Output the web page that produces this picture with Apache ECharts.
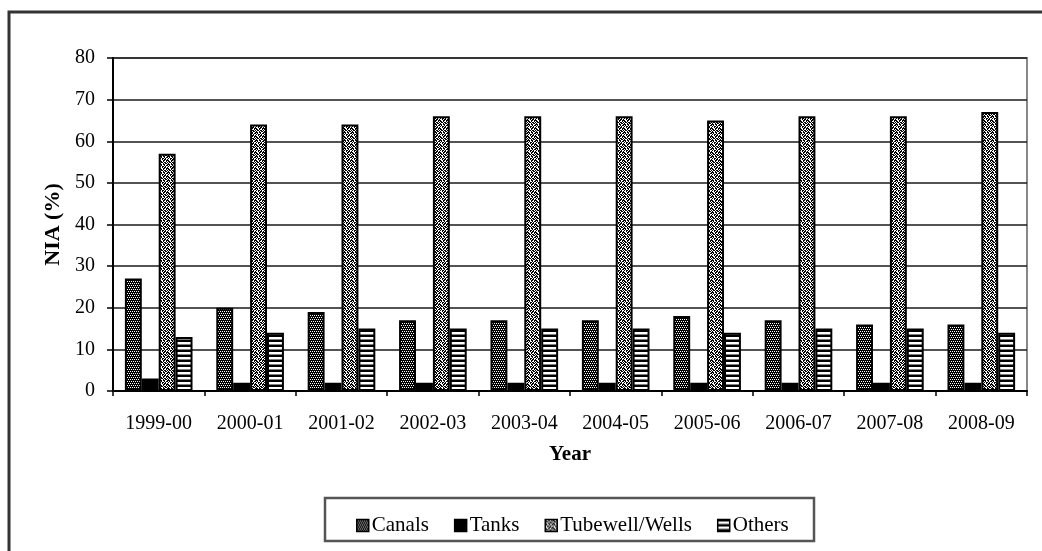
<!DOCTYPE html>
<html>
<head>
<meta charset="utf-8">
<script src="https://cdn.jsdelivr.net/npm/echarts@6/dist/echarts.min.js"></script>
<style>
  html, body { margin: 0; padding: 0; background: #fff; }
  #chart { width: 1042px; height: 551px; }
</style>
</head>
<body>
<div id="chart"></div>
<script>
// Net irrigated area share by source, per agricultural year
const years = ['1999-00', '2000-01', '2001-02', '2002-03', '2003-04', '2004-05', '2005-06', '2006-07', '2007-08', '2008-09'];
const canals = [27, 20, 19, 17, 17, 17, 18, 17, 16, 16];
const tanks = [3, 2, 2, 2, 2, 2, 2, 2, 2, 2];
const tubewells = [57, 64, 64, 66, 66, 66, 65, 66, 66, 67];
const others = [13, 14, 15, 15, 15, 15, 14, 15, 15, 14];
const yTicks = { min: 0, max: 80, step: 10 };

// Monochrome hatch fills built from tiny bitmaps ('#' = black, '.' = white, '+' = grey)
function makePattern(rows) {
  const h = rows.length, w = rows[0].length;
  const c = document.createElement('canvas');
  c.width = w; c.height = h;
  const ctx = c.getContext('2d');
  for (let y = 0; y < h; y++) {
    for (let x = 0; x < w; x++) {
      const ch = rows[y][x];
      ctx.fillStyle = ch === '#' ? '#000' : (ch === '+' ? '#808080' : '#fff');
      ctx.fillRect(x, y, 1, 1);
    }
  }
  return { image: c, repeat: 'repeat' };
}

const canalFill = makePattern([
  '####',
  '#.#.',
  '####',
  '.#.#'
]);
const tubewellFill = makePattern([
  '#..##.##',
  '##.#..#.',
  '.##.##.#',
  '#..#.##.',
  '##.##..#',
  '.#..#.##',
  '#.##.#..',
  '..#.##.#'
]);
const othersFill = makePattern([
  '####',
  '####',
  '....',
  '....',
  '++++'
]);

const serif = '"Liberation Serif", "Times New Roman", serif';
const chart = echarts.init(document.getElementById('chart'), null, { renderer: 'canvas' });

function barSeries(name, data, fill) {
  return {
    name: name,
    type: 'bar',
    data: data,
    barGap: '0%',
    barCategoryGap: '26%',
    itemStyle: { color: fill, borderColor: '#000', borderWidth: 2 },
    emphasis: { disabled: true }
  };
}

chart.setOption({
  animation: false,
  backgroundColor: '#fff',
  textStyle: { fontFamily: serif, color: '#000' },
  grid: {
    left: 113, right: 15, top: 58, bottom: 160,
    show: true, borderColor: '#888', borderWidth: 2, backgroundColor: 'transparent'
  },
  legend: {
    left: 351, top: 510,
    itemWidth: 12, itemHeight: 12, itemGap: 25,
    icon: 'rect',
    textStyle: { fontFamily: serif, fontSize: 21, color: '#000', padding: [0, 0, 0, -2] },
    itemStyle: { borderColor: '#000', borderWidth: 1.5 },
    data: ['Canals', 'Tanks', 'Tubewell/Wells', 'Others']
  },
  xAxis: {
    type: 'category',
    data: years,
    name: 'Year',
    nameLocation: 'middle',
    nameGap: 53,
    nameTextStyle: { fontFamily: serif, fontSize: 21, fontWeight: 'bold', color: '#000' },
    axisLine: { lineStyle: { color: '#000', width: 2 } },
    axisTick: { show: true, length: 5, lineStyle: { color: '#000', width: 1.5 } },
    axisLabel: { fontFamily: serif, fontSize: 20, color: '#000', margin: 23 }
  },
  yAxis: {
    type: 'value',
    min: yTicks.min, max: yTicks.max, interval: yTicks.step,
    name: 'NIA (%)',
    nameLocation: 'middle',
    nameGap: 47,
    nameTextStyle: { fontFamily: serif, fontSize: 22, fontWeight: 'bold', color: '#000' },
    axisLine: { show: true, lineStyle: { color: '#000', width: 2 } },
    axisTick: { show: true, length: 6, lineStyle: { color: '#000', width: 1.5 } },
    axisLabel: { fontFamily: serif, fontSize: 20, color: '#000', margin: 18 },
    splitLine: { lineStyle: { color: '#1a1a1a', width: 1.6 } }
  },
  series: [
    barSeries('Canals', canals, canalFill),
    barSeries('Tanks', tanks, '#000'),
    barSeries('Tubewell/Wells', tubewells, tubewellFill),
    barSeries('Others', others, othersFill)
  ],
  graphic: [
    {
      type: 'polyline',
      shape: { points: [[9, 551], [9, 12], [1042, 12]] },
      style: { stroke: '#333', lineWidth: 3, fill: null },
      silent: true
    },
    {
      type: 'rect',
      shape: { x: 325, y: 498, width: 489, height: 43 },
      style: { stroke: '#555', lineWidth: 2.5, fill: null },
      silent: true
    }
  ]
});
</script>
</body>
</html>
